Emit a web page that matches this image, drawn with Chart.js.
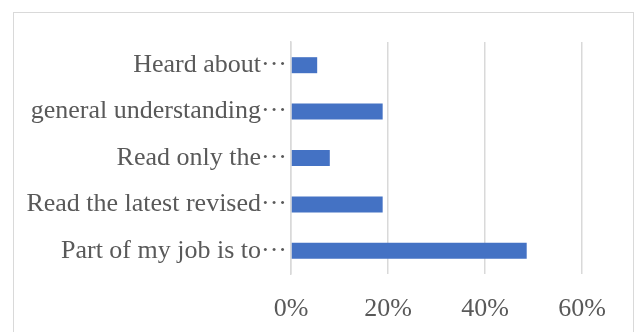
<!DOCTYPE html>
<html>
<head>
<meta charset="utf-8">
<script src="https://cdn.jsdelivr.net/npm/chart.js@4/dist/chart.umd.min.js"></script>
<style>
  html, body { margin: 0; padding: 0; background: #fff; overflow: hidden; }
  #wrap { position: relative; width: 636px; height: 332px; }
  #frame {
    position: absolute; left: 13px; top: 12px;
    width: 621px; height: 340px;
    border: 1px solid #d9d9d9; box-sizing: border-box;
  }
  canvas { position: absolute; left: 0; top: 0; }
</style>
</head>
<body>
<div id="wrap">
  <div id="frame"></div>
  <canvas id="awarenessChart" width="636" height="332"></canvas>
</div>
<script>
// Survey answers, top to bottom (long labels cut with a dotted ellipsis)
const categories = [
    'Heard about\u00B7\u00B7\u00B7',
    'general understanding\u00B7\u00B7\u00B7',
    'Read only the\u00B7\u00B7\u00B7',
    'Read the latest revised\u00B7\u00B7\u00B7',
    'Part of my job is to\u00B7\u00B7\u00B7'
];
const shares = [5.4, 18.9, 8.0, 18.9, 48.6];
const tickValues = [0, 20, 40, 60];

const textColor = '#595959';
const labelFont = { family: '"Liberation Serif", "DejaVu Serif", serif', size: 26 };

let ctx = document.getElementById('awarenessChart').getContext('2d');

new Chart(ctx, {
    type: 'bar',
    data: {
        labels: categories,
        datasets: [{
            data: shares,
            backgroundColor: '#4472C4',
            borderWidth: 0,
            categoryPercentage: 1,
            barPercentage: 0.345
        }]
    },
    options: {
        indexAxis: 'y',
        responsive: false,
        animation: false,
        layout: { padding: { left: 0, right: 54, top: 42, bottom: 0 } },
        plugins: {
            legend: { display: false },
            tooltip: { enabled: false }
        },
        scales: {
            x: {
                min: 0,
                max: 60,
                afterBuildTicks: (scale) => {
                    scale.ticks = tickValues.map(v => ({ value: v }));
                },
                afterFit: (scale) => { scale.height = 58; },
                grid: { color: '#d9d9d9', lineWidth: 1.5, drawTicks: false },
                border: { display: false },
                ticks: {
                    color: textColor,
                    font: labelFont,
                    padding: 20,
                    callback: (v) => v + '%'
                }
            },
            y: {
                afterFit: (scale) => { scale.width = 291; },
                grid: { display: false, drawTicks: false },
                border: { display: true, color: '#d9d9d9', width: 1.5 },
                ticks: {
                    color: textColor,
                    font: labelFont,
                    padding: 4,
                    autoSkip: false
                }
            }
        }
    }
});
</script>
</body>
</html>
